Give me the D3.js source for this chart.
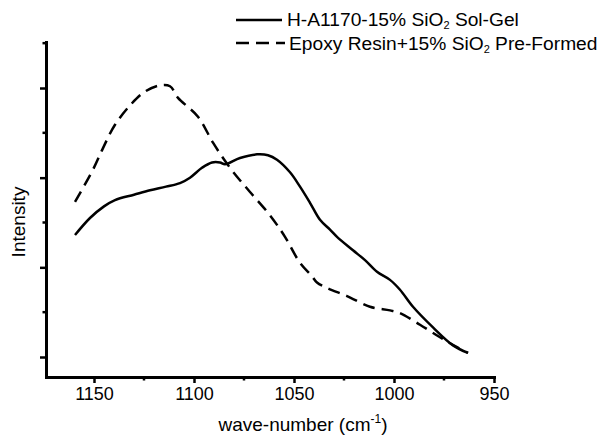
<html>
<head>
    <script src="https://d3js.org/d3.v7.min.js"></script>
    <style>
        body { margin: 0; background: white; }
        text { font-family: "Liberation Sans", Arial, sans-serif; fill: black; }
    </style>
</head>

<body>
    <svg id="chart"></svg>

    <script>
        var Width = 606;
        var Height = 441;

        // wave-number (cm-1) and intensity (arbitrary units)
        var SolGelX = [1159.5, 1152, 1145, 1139.5, 1130, 1122, 1114, 1107, 1102, 1096, 1091, 1087, 1084.5, 1077, 1068.5, 1063, 1058.5, 1052, 1047, 1042, 1037, 1032, 1028.5, 1020.5, 1014.5, 1008.5, 1002, 997, 990.5, 980.5, 970.5, 963];
        var SolGelY = [1.36, 1.55, 1.68, 1.75, 1.81, 1.86, 1.90, 1.94, 2.00, 2.11, 2.17, 2.17, 2.15, 2.22, 2.26, 2.25, 2.20, 2.06, 1.90, 1.72, 1.53, 1.42, 1.34, 1.19, 1.08, 0.95, 0.86, 0.75, 0.56, 0.33, 0.13, 0.045];

        var PreFormedX = [1159.5, 1150.5, 1145.5, 1139.5, 1131, 1124.5, 1117, 1112, 1108, 1098, 1090.5, 1082, 1072, 1062, 1054.5, 1047, 1041, 1038.5, 1033.5, 1023.5, 1012, 1002, 997, 987, 977, 968.5, 963];
        var PreFormedY = [1.73, 2.09, 2.33, 2.59, 2.83, 2.96, 3.03, 3.02, 2.89, 2.68, 2.39, 2.11, 1.84, 1.58, 1.34, 1.05, 0.90, 0.83, 0.77, 0.68, 0.56, 0.52, 0.49, 0.36, 0.22, 0.11, 0.045];

        var XTicks = [1150, 1100, 1050, 1000, 950];
        var XMinorTicks = [1125, 1075, 1025, 975];
        var YTicks = [0, 1, 2, 3];
        var YMinorTicks = [0.5, 1.5, 2.5, 3.5];

        var svg = d3.select("#chart").attr("width", Width).attr("height", Height);

        var x = d3.scaleLinear().domain([1174, 950]).range([46, 494]);
        var y = d3.scaleLinear().domain([-0.223, 3.513]).range([377, 42]);

        // axes
        var xAxis = svg.append("g").attr("transform", "translate(0,377)")
            .call(d3.axisBottom(x).tickValues(XTicks).tickFormat(d3.format("d"))
                .tickSize(6).tickSizeOuter(0).tickPadding(4));
        xAxis.selectAll(".tick line").attr("stroke-width", 2.5);
        xAxis.selectAll(".tick text").attr("font-size", 18).attr("dy", "0.72em")
            .attr("font-family", "Liberation Sans, Arial, sans-serif");
        xAxis.selectAll(".minor").data(XMinorTicks).enter()
            .append("line")
            .attr("x1", function(d){ return x(d); }).attr("x2", function(d){ return x(d); })
            .attr("y1", 0).attr("y2", 3.5)
            .attr("stroke", "black").attr("stroke-width", 2.5);

        var yAxis = svg.append("g").attr("transform", "translate(46,0)")
            .call(d3.axisLeft(y).tickValues(YTicks).tickSize(6).tickSizeOuter(0).tickFormat(""));
        yAxis.selectAll(".tick line").attr("stroke-width", 2.5);
        yAxis.selectAll(".minor").data(YMinorTicks).enter()
            .append("line")
            .attr("y1", function(d){ return y(d); }).attr("y2", function(d){ return y(d); })
            .attr("x1", 0).attr("x2", -3.5)
            .attr("stroke", "black").attr("stroke-width", 2.5);

        svg.selectAll(".domain").attr("stroke-width", 3).attr("stroke-linecap", "square");

        // series
        var line = d3.line()
            .x(function(d){ return x(d[0]); })
            .y(function(d){ return y(d[1]); })
            .curve(d3.curveCatmullRom.alpha(0.5));

        svg.append("path")
            .datum(d3.zip(SolGelX, SolGelY))
            .attr("d", line)
            .attr("fill", "none").attr("stroke", "black").attr("stroke-width", 2.5);

        svg.append("path")
            .datum(d3.zip(PreFormedX, PreFormedY))
            .attr("d", line)
            .attr("fill", "none").attr("stroke", "black").attr("stroke-width", 2.5)
            .attr("stroke-dasharray", "12,7");

        // axis titles
        var xt = svg.append("text")
            .attr("x", 303).attr("y", 431)
            .attr("text-anchor", "middle").attr("font-size", 19)
            .text("wave-number (cm");
        xt.append("tspan").attr("font-size", 12).attr("dy", -8).text("-1");
        xt.append("tspan").attr("dy", 8).text(")");

        svg.append("text")
            .attr("transform", "translate(25,222) rotate(-90)")
            .attr("text-anchor", "middle").attr("font-size", 19)
            .text("Intensity");

        // legend
        var legend = svg.append("g");
        legend.append("line")
            .attr("x1", 236).attr("x2", 282).attr("y1", 20).attr("y2", 20)
            .attr("stroke", "black").attr("stroke-width", 2.5);
        legend.append("line")
            .attr("x1", 236).attr("x2", 285).attr("y1", 43).attr("y2", 43)
            .attr("stroke", "black").attr("stroke-width", 2.5)
            .attr("stroke-dasharray", "13,7");

        var t1 = legend.append("text").attr("x", 287).attr("y", 26).attr("font-size", 19.2)
            .text("H-A1170-15% SiO");
        t1.append("tspan").attr("font-size", 11).attr("dy", 3).text("2");
        t1.append("tspan").attr("dy", -3).text(" Sol-Gel");

        var t2 = legend.append("text").attr("x", 289).attr("y", 50).attr("font-size", 19.2)
            .text("Epoxy Resin+15% SiO");
        t2.append("tspan").attr("font-size", 11).attr("dy", 3).text("2");
        t2.append("tspan").attr("dy", -3).text(" Pre-Formed");
    </script>
</body>
</html>
